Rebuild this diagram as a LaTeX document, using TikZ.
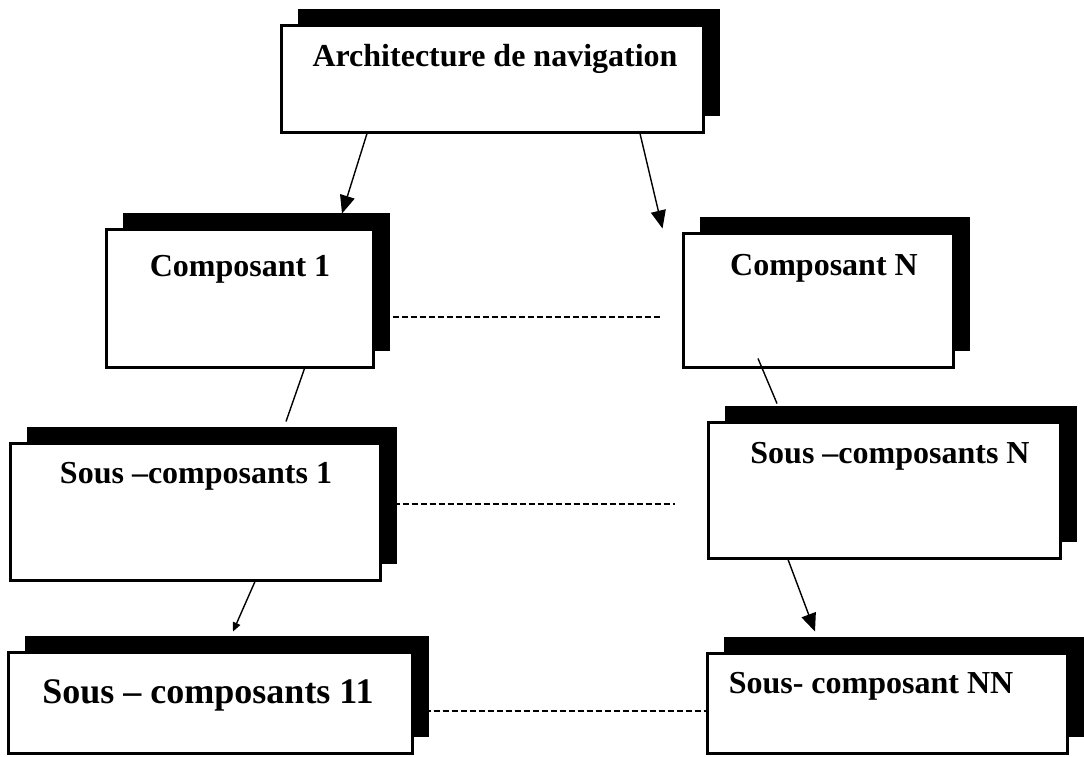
\documentclass[tikz,border=0pt]{standalone}
\usepackage{fontspec}
\setmainfont{Liberation Serif}
\usetikzlibrary{shadows,arrows.meta,calc}
\begin{document}
\begin{tikzpicture}[x=1pt,y=-1pt,
  box/.style={draw=black,line width=3pt,fill=white,inner sep=0pt,
    drop shadow={shadow xshift=17pt,shadow yshift=16pt,opacity=1,fill=black}},
  label/.style={font=\bfseries\fontsize{32}{38}\selectfont,inner sep=0pt,anchor=base},
  biglabel/.style={label,font=\bfseries\fontsize{36}{42}\selectfont},
  link/.style={draw=black,line width=1.4pt},
  bigtip/.style={link,-{Triangle[length=18pt,width=15pt]}},
  smalltip/.style={link,-{Triangle[length=9pt,width=8pt]}},
  dotted link/.style={draw=black,line width=1.2pt,dash pattern=on 6pt off 3pt}]
\useasboundingbox (0,0) rectangle (1084,756);
\fill[white] (0,0) rectangle (1084,756);

% boxes
\node[box,minimum width=422pt,minimum height=107pt] (A)   at (492,78.5) {};
\node[box,minimum width=267pt,minimum height=138pt] (C1)  at (239.5,298) {};
\node[box,minimum width=270pt,minimum height=134pt] (CN)  at (818,300) {};
\node[box,minimum width=370pt,minimum height=137pt] (S1)  at (195,511.5) {};
\node[box,minimum width=352pt,minimum height=136pt] (SN)  at (884,490) {};
\node[box,minimum width=404pt,minimum height=101pt] (S11) at (210,702.5) {};
\node[box,minimum width=360pt,minimum height=100pt] (SNN) at (887,703) {};

% titles
\node[label] (At)   at (495,66)  {Architecture de navigation};
\node[label] (C1t)  at (240,276) {Composant 1};
\node[label] (CNt)  at (824,275) {Composant N};
\node[label] (S1t)  at (196,483) {Sous –composants 1};
\node[label] (SNt)  at (890,463) {Sous –composants N};
\node[biglabel] (S11t) at (208,703) {Sous – composants 11};
\node[label] (SNNt) at (871,693) {Sous- composant NN};

% hierarchy links
\draw[bigtip] ([xshift=-125pt]A.south) -- ([xshift=102.5pt,yshift=14pt]C1.north);
\draw[bigtip] ([xshift=148pt]A.south) -- ([xshift=-19pt,yshift=3pt]CN.north west);
\draw[link] ([xshift=65pt]C1.south) -- ([xshift=91pt,yshift=20pt]S1.north);
\draw[link] ([xshift=-60pt,yshift=10pt]CN.south) -- ([xshift=-107pt,yshift=17pt]SN.north);
\draw[smalltip] ([xshift=60pt]S1.south) -- ([xshift=23pt,yshift=19pt]S11.north);
\draw[bigtip] ([xshift=-96pt]SN.south) -- ([xshift=-72pt,yshift=20pt]SNN.north);

% level links
\draw[dotted link] ([yshift=-19pt]C1.east) -- ([xshift=-21pt,yshift=-17pt]CN.west);
\draw[dotted link] ([xshift=3pt,yshift=7.5pt]S1.east) -- ([xshift=-32pt,yshift=-14pt]SN.west);
\draw[dotted link] ([xshift=2pt,yshift=-8.5pt]S11.east) -- ([yshift=-8pt]SNN.west);
\end{tikzpicture}
\end{document}
